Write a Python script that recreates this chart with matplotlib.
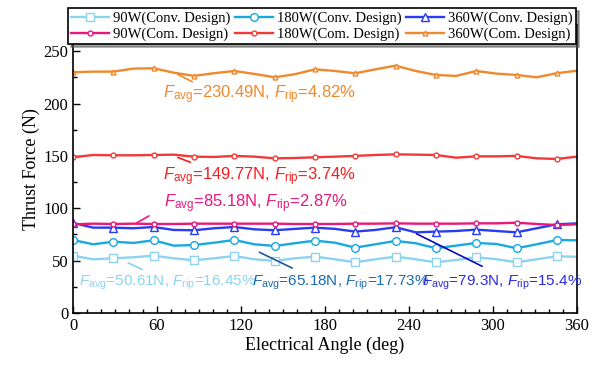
import matplotlib
matplotlib.use("Agg")
import matplotlib.pyplot as plt

plt.rcParams["font.family"] = ["Liberation Serif", "DejaVu Serif"]
plt.rcParams["mathtext.fontset"] = "custom"
plt.rcParams["mathtext.rm"] = "Liberation Sans"
plt.rcParams["mathtext.it"] = "Liberation Sans:italic"

# electrical angle, 14.4 deg step (markers every 28.8 deg)
angle = [0, 14.4, 28.8, 43.2, 57.6, 72, 86.4, 100.8, 115.2, 129.6, 144, 158.4, 172.8,
         187.2, 201.6, 216, 230.4, 244.8, 259.2, 273.6, 288, 302.4, 316.8, 331.2, 345.6, 360]

conv_90 = [54.7, 51.3, 52.2, 53.2, 54.7, 52.2, 50.3, 52.2, 54.4, 51.3, 49.7, 52.2, 53.8,
           51.3, 48.4, 51.3, 53.8, 51.3, 48.4, 50.6, 53.2, 51.3, 48.4, 51.3, 54.2, 53.6]
conv_180 = [69.7, 65.6, 68.1, 66.9, 69.4, 64.3, 64.9, 67.1, 69.7, 65.6, 64.0, 66.6, 69.1,
            67.1, 62.4, 65.6, 68.8, 66.6, 61.8, 64.3, 66.9, 65.9, 61.8, 65.6, 69.7, 69.4]
conv_360 = [86.0, 81.5, 81.5, 80.9, 82.1, 79.3, 79.0, 80.9, 82.1, 79.9, 79.0, 80.3, 81.5,
            80.3, 77.7, 79.3, 81.9, 77.0, 77.7, 78.3, 79.6, 78.3, 77.0, 80.9, 84.7, 85.6]
com_90 = [84.7, 85.3, 85.0, 85.3, 85.0, 85.0, 85.3, 85.3, 85.3, 85.3, 85.3, 85.0, 85.0,
          85.0, 85.3, 85.3, 85.6, 85.3, 85.3, 85.3, 85.6, 85.6, 86.2, 85.0, 84.0, 84.7]
com_180 = [148.7, 150.9, 150.6, 150.6, 150.9, 151.2, 149.3, 149.0, 150.0, 149.3, 147.7, 148.0, 148.7,
           149.3, 150.0, 150.9, 151.5, 151.2, 150.9, 148.3, 149.6, 149.6, 150.0, 147.7, 147.1, 149.3]
com_360 = [229.9, 230.5, 230.5, 233.4, 233.7, 229.5, 226.4, 229.0, 231.1, 228.3, 225.1, 228.0, 232.7,
           231.1, 228.9, 232.7, 236.2, 231.1, 227.3, 226.4, 231.1, 228.6, 227.3, 225.1, 229.0, 231.4]

labels = ["90W(Conv. Design)", "180W(Conv. Design)", "360W(Conv. Design)",
          "90W(Com. Design)", "180W(Com. Design)", "360W(Com. Design)"]
series = [conv_90, conv_180, conv_360, com_90, com_180, com_360]
colors = ["#8dd3f0", "#1aa8e0", "#2a3cf2", "#e8197c", "#f23a3a", "#f0892c"]
markers = ["s", "o", "^", "o", "o", "^"]
msizes = [5.5, 5.5, 5.5, 3.5, 3.5, 3.5]

# annotation: text, text pos, leader line start/end, text colour, line colour, size
notes = [
    (r"$F_{\rm avg}$=230.49N, $F_{\rm rip}$=4.82%", (64.1, 205), (73, 229), (87, 219.7), "#f0892c", "#f0892c", 12),
    (r"$F_{\rm avg}$=149.77N, $F_{\rm rip}$=3.74%", (64.0, 127), (73, 149.4), (85.7, 143), "#f21f1f", "#f21f1f", 12),
    (r"$F_{\rm avg}$=85.18N, $F_{\rm rip}$=2.87%", (64.7, 100.6), (43.7, 84.7), (56, 94), "#e8197c", "#e8197c", 12),
    (r"$F_{\rm avg}$=50.61N, $F_{\rm rip}$=16.45%", (4.3, 26.3), (37.6, 49), (51.2, 40.4), "#8dd3f0", "#8dd3f0", 11),
    (r"$F_{\rm avg}$=65.18N, $F_{\rm rip}$=17.73%", (127.5, 26.3), (131.3, 59.2), (158.4, 41.7), "#1c6cb0", "#1c5a9c", 11),
    (r"$F_{\rm avg}$=79.3N, $F_{\rm rip}$=15.4%", (249, 26.3), (243.6, 76.8), (294, 43.4), "#2a2ae8", "#0a0ac0", 11),
]

fig = plt.figure(figsize=(6, 3.68), dpi=100)
ax = fig.add_axes([0.1217, 0.1495, 0.84, 0.7825])

lines = []
for y, lab, c, m, ms in zip(series, labels, colors, markers, msizes):
    ln, = ax.plot(angle, y, color=c, lw=1.7, marker=m, ms=ms, mfc="white", mec=c,
                  mew=1.0, markevery=2, label=lab)
    lines.append(ln)

for txt, tpos, p0, p1, tc, lc, fs in notes:
    ax.annotate("", xy=p1, xytext=p0, arrowprops=dict(arrowstyle="-", color=lc, lw=1.2))
    ax.text(tpos[0], tpos[1], txt, color=tc, fontsize=fs, va="baseline", ha="left",
            family="Liberation Sans")

ax.set_xlim(0, 360)
ax.set_ylim(0, 275)
ax.set_xticks([0, 60, 120, 180, 240, 300, 360])
ax.set_xticks(range(0, 361, 10), minor=True)
ax.set_yticks([0, 50, 100, 150, 200, 250])
ax.set_yticks(range(0, 276, 25), minor=True)
ax.tick_params(direction="in", which="major", length=5, width=1, labelsize=12)
ax.tick_params(direction="in", which="minor", length=3, width=1)
for s in ax.spines.values():
    s.set_linewidth(1.2)
ax.set_xlabel("Electrical Angle (deg)", fontsize=13, labelpad=2)
ax.set_ylabel("Thrust Force (N)", fontsize=13, labelpad=2)

# legend filled column-wise, so interleave to get rows Conv / Com
order = [0, 3, 1, 4, 2, 5]
leg = ax.legend([lines[i] for i in order], [labels[i] for i in order],
                ncol=3, loc="upper left", bbox_to_anchor=(0.113, 0.977),
                bbox_transform=fig.transFigure, fontsize=10.5, frameon=True,
                fancybox=False, shadow=True, edgecolor="black", framealpha=1,
                borderpad=0.2, labelspacing=0.2, handlelength=2.6,
                handletextpad=0.3, columnspacing=0.3, borderaxespad=0)
leg.get_frame().set_linewidth(1.2)

fig.savefig("out.png", dpi=100)
